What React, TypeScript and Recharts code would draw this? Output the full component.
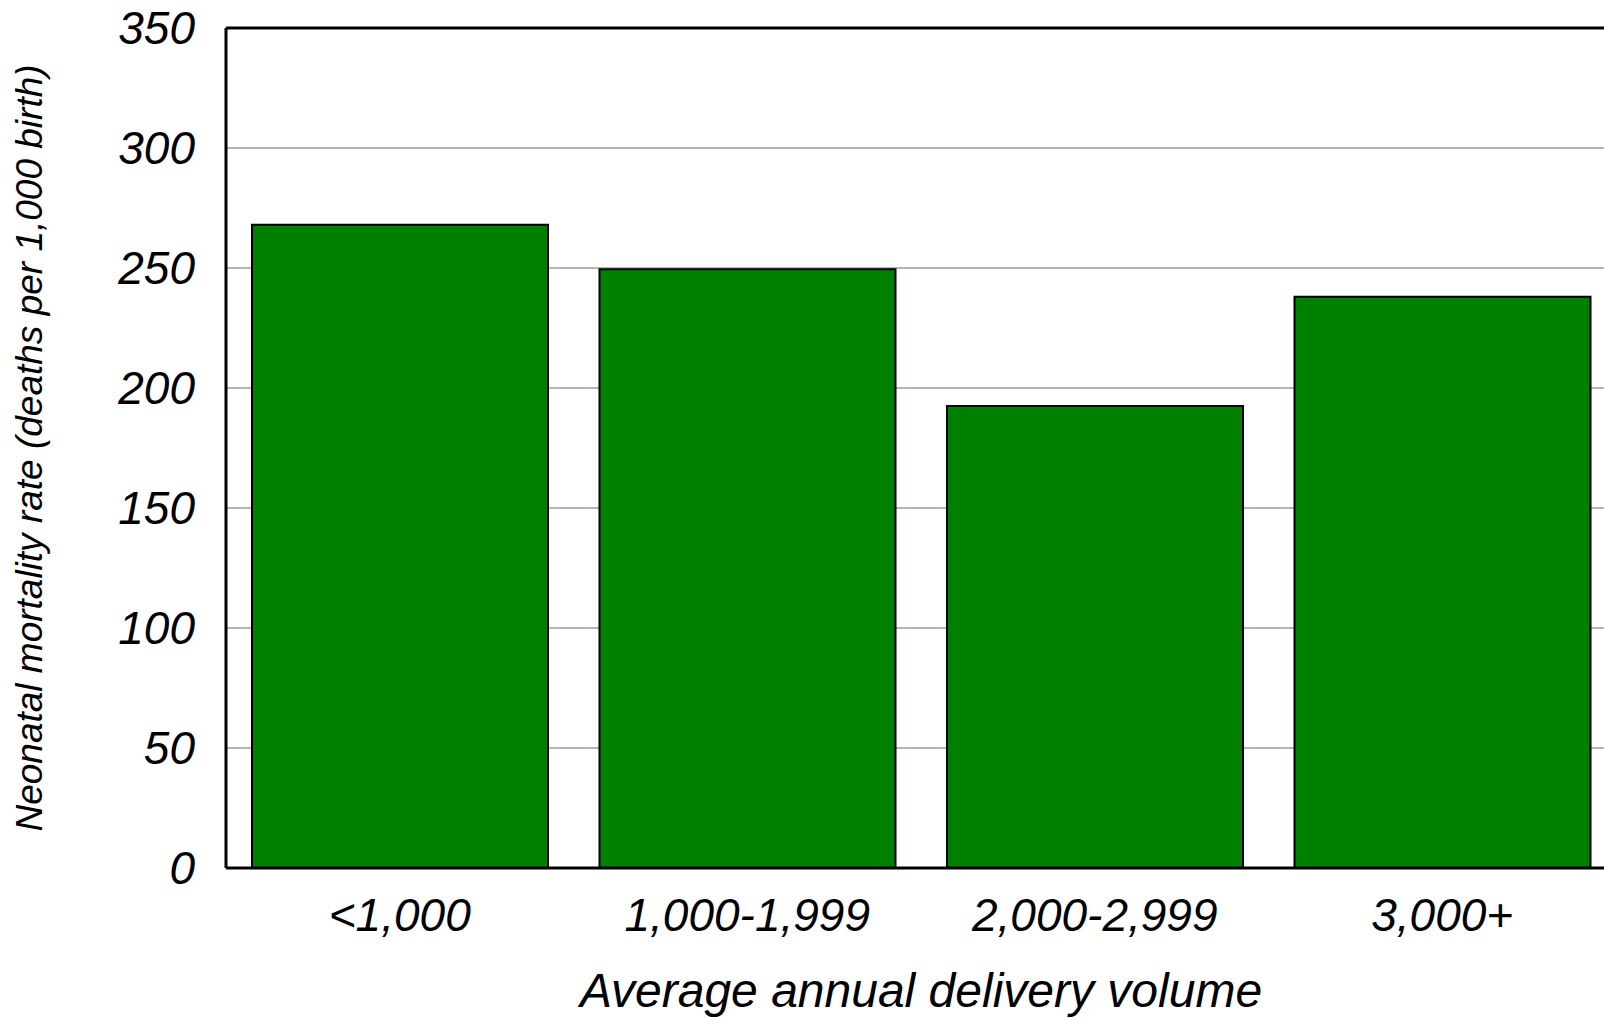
import React from 'react';
import {
  BarChart,
  Bar,
  XAxis,
  YAxis,
  CartesianGrid,
  ReferenceLine,
  Label,
} from 'recharts';

// Delivery-volume groups and their neonatal mortality rates
const categories = ['<1,000', '1,000-1,999', '2,000-2,999', '3,000+'];
const mortalityRates = [268, 249.5, 192.5, 238];
const yTicks = [0, 50, 100, 150, 200, 250, 300, 350];

const xTitle = 'Average annual delivery volume';
const yTitle = 'Neonatal mortality rate (deaths per 1,000 birth)';

const data = categories.map((volume, i) => ({ volume, rate: mortalityRates[i] }));

const FONT = '"Liberation Sans", Arial, Helvetica, sans-serif';

const tickStyle = {
  fontFamily: FONT,
  fontStyle: 'italic' as const,
  fontSize: 46,
  fill: '#000',
};

const YTitle = (props: any) => {
  const vb = props.viewBox || {};
  const cx = 42;
  const cy = vb.y + vb.height / 2;
  return (
    <text
      x={cx}
      y={cy}
      transform={`rotate(-90, ${cx}, ${cy})`}
      textAnchor="middle"
      fontFamily={FONT}
      fontStyle="italic"
      fontSize={37}
      fill="#000"
    >
      {yTitle}
    </text>
  );
};

const XTitle = (props: any) => {
  const vb = props.viewBox || {};
  const cx = vb.x + vb.width / 2;
  const cy = vb.y + vb.height - 11;
  return (
    <text
      x={cx}
      y={cy}
      textAnchor="middle"
      fontFamily={FONT}
      fontStyle="italic"
      fontSize={48}
      fill="#000"
    >
      {xTitle}
    </text>
  );
};

export default function App() {
  return (
    <div
      style={{
        position: 'fixed',
        left: 0,
        top: 0,
        width: 1604,
        height: 1018,
        overflow: 'hidden',
        background: '#fff',
      }}
    >
      <BarChart
        width={1620}
        height={1018}
        data={data}
        margin={{ top: 28, right: 4, left: 0, bottom: 0 }}
        barCategoryGap={26}
      >
        <CartesianGrid vertical={false} stroke="#6a6a6a" strokeWidth={1} />
        <XAxis
          dataKey="volume"
          height={150}
          interval={0}
          tickLine={false}
          tickSize={0}
          tickMargin={30}
          axisLine={{ stroke: '#000', strokeWidth: 3 }}
          tick={tickStyle}
        >
          <Label content={<XTitle />} />
        </XAxis>
        <YAxis
          width={226}
          domain={[0, 350]}
          ticks={yTicks}
          interval={0}
          tickLine={false}
          tickSize={0}
          tickMargin={31}
          axisLine={{ stroke: '#000', strokeWidth: 3 }}
          tick={tickStyle}
        >
          <Label content={<YTitle />} />
        </YAxis>
        <ReferenceLine y={350} stroke="#000" strokeWidth={3} />
        <Bar
          dataKey="rate"
          fill="#008000"
          stroke="#000"
          strokeWidth={2}
          isAnimationActive={false}
        />
      </BarChart>
    </div>
  );
}
